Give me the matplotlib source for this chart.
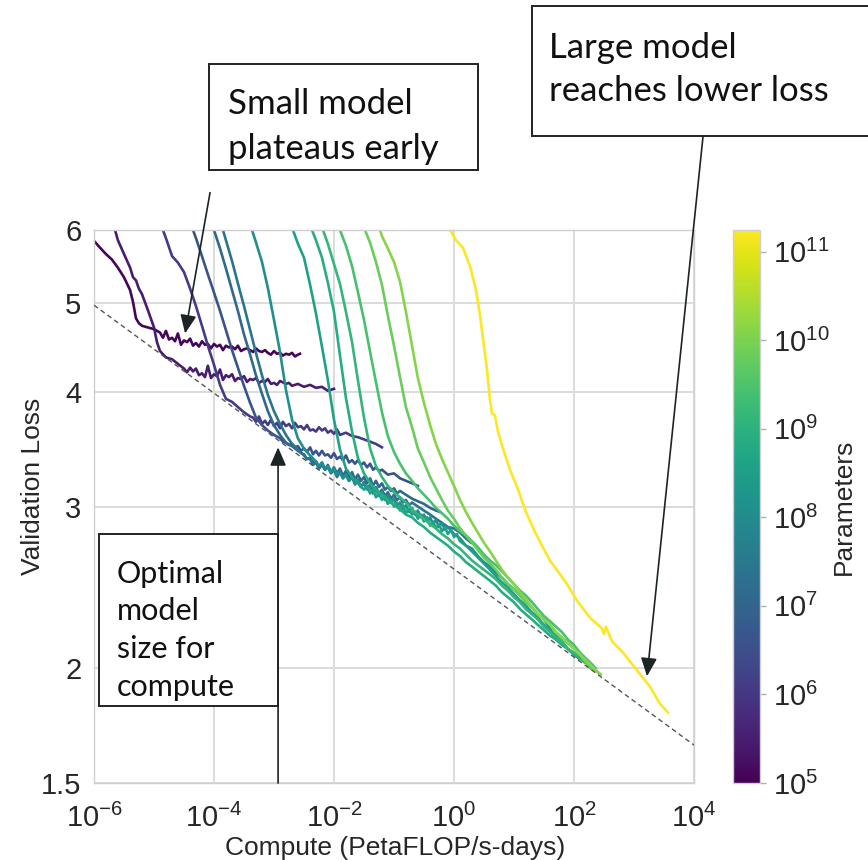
"""
Validation loss vs. compute for a family of language models,
coloured by parameter count, with the compute-efficient frontier.
"""

import matplotlib
matplotlib.use("Agg")
import matplotlib.pyplot as plt
from matplotlib.colors import LogNorm
from matplotlib.patches import Rectangle
from matplotlib.ticker import FixedLocator, FixedFormatter, NullLocator


OUT_PNG = "out.png"

# parameter count of each training run (colour scale)
params = [1.2e5, 3e5, 1.2e6, 4e6, 1.2e7, 2.5e7, 1.2e8, 3.5e8,
          7.6e8, 1.3e9, 2.7e9, 6.7e9, 1.3e10, 1.75e11]

# compute (PetaFLOP/s-days) and validation loss per run
compute_120k = [1.0e-6, 1.26e-6, 1.58e-6, 2.0e-6, 2.5e-6, 3.16e-6, 4.0e-6, 4.47e-6, 5.0e-6, 5.6e-6,
                6.3e-6, 7.9e-6, 1.0e-5, 1.26e-5, 1.41e-5, 1.58e-5, 1.78e-5, 2.0e-5, 2.24e-5, 2.5e-5,
                2.82e-5, 3.16e-5, 3.55e-5, 4.0e-5, 4.47e-5, 5.0e-5, 5.62e-5, 6.3e-5, 7.08e-5, 7.9e-5,
                8.91e-5, 1.0e-4, 1.12e-4, 1.26e-4, 1.41e-4, 1.58e-4, 1.78e-4, 2.0e-4, 2.24e-4, 2.5e-4,
                2.82e-4, 3.16e-4, 3.55e-4, 4.0e-4, 4.47e-4, 5.0e-4, 5.62e-4, 6.3e-4, 7.08e-4, 7.9e-4,
                8.91e-4, 1.0e-3, 1.12e-3, 1.26e-3, 1.41e-3, 1.58e-3, 1.78e-3, 2.0e-3, 2.24e-3, 2.5e-3,
                2.71e-3]
loss_120k = [5.84, 5.74, 5.65, 5.57, 5.46, 5.33, 5.16, 5.01, 4.81, 4.75,
             4.72, 4.70, 4.68, 4.64, 4.58, 4.66, 4.56, 4.58, 4.54, 4.63,
             4.50, 4.55, 4.53, 4.57, 4.49, 4.52, 4.48, 4.54, 4.50, 4.51,
             4.46, 4.51, 4.48, 4.50, 4.44, 4.49, 4.47, 4.48, 4.45, 4.49,
             4.43, 4.45, 4.46, 4.44, 4.42, 4.46, 4.43, 4.42, 4.44, 4.41,
             4.39, 4.43, 4.40, 4.41, 4.38, 4.40, 4.39, 4.41, 4.37, 4.39,
             4.40]

compute_300k = [2.24e-6, 2.5e-6, 3.16e-6, 4.0e-6, 4.47e-6, 5.0e-6, 5.6e-6, 6.3e-6, 7.9e-6, 1.0e-5,
                1.12e-5, 1.26e-5, 1.58e-5, 2.0e-5, 2.5e-5, 3.16e-5, 3.55e-5, 4.0e-5, 4.47e-5, 5.0e-5,
                5.62e-5, 6.3e-5, 7.08e-5, 7.9e-5, 8.91e-5, 1.0e-4, 1.12e-4, 1.26e-4, 1.41e-4, 1.58e-4,
                1.78e-4, 2.0e-4, 2.24e-4, 2.5e-4, 2.82e-4, 3.16e-4, 3.55e-4, 4.0e-4, 4.47e-4, 5.0e-4,
                5.62e-4, 6.3e-4, 7.08e-4, 7.9e-4, 8.91e-4, 1.0e-3, 1.12e-3, 1.26e-3, 1.58e-3, 1.78e-3,
                2.0e-3, 2.5e-3, 3.16e-3, 4.0e-3, 5.0e-3, 6.3e-3, 7.9e-3, 1.0e-2]
loss_300k = [6.00, 5.85, 5.65, 5.46, 5.33, 5.29, 5.18, 5.11, 4.91, 4.70,
             4.53, 4.43, 4.36, 4.34, 4.29, 4.24, 4.20, 4.25, 4.21, 4.24,
             4.17, 4.19, 4.15, 4.27, 4.14, 4.18, 4.16, 4.23, 4.12, 4.17,
             4.15, 4.18, 4.11, 4.14, 4.13, 4.16, 4.10, 4.13, 4.12, 4.14,
             4.09, 4.11, 4.10, 4.13, 4.08, 4.09, 4.07, 4.11, 4.08, 4.09,
             4.06, 4.08, 4.05, 4.07, 4.04, 4.05, 4.01, 4.03]

compute_1_2m = [1.41e-5, 1.58e-5, 2.0e-5, 2.5e-5, 3.16e-5, 4.0e-5, 5.0e-5, 6.3e-5, 7.9e-5, 1.0e-4,
                1.26e-4, 1.58e-4, 2.0e-4, 2.5e-4, 3.16e-4, 4.0e-4, 4.47e-4, 5.0e-4, 5.62e-4, 6.3e-4,
                7.08e-4, 7.9e-4, 8.91e-4, 1.0e-3, 1.12e-3, 1.26e-3, 1.41e-3, 1.58e-3, 1.78e-3, 2.0e-3,
                2.24e-3, 2.5e-3, 2.82e-3, 3.16e-3, 3.55e-3, 4.0e-3, 4.47e-3, 5.0e-3, 5.62e-3, 6.3e-3,
                7.08e-3, 7.9e-3, 8.91e-3, 1.0e-2, 1.12e-2, 1.26e-2, 1.58e-2, 2.0e-2, 2.5e-2, 3.16e-2,
                4.0e-2, 5.0e-2, 6.3e-2]
loss_1_2m = [6.00, 5.88, 5.62, 5.53, 5.40, 5.18, 4.96, 4.72, 4.49, 4.28,
             4.07, 3.93, 3.90, 3.85, 3.80, 3.76, 3.75, 3.71, 3.76, 3.69,
             3.72, 3.68, 3.73, 3.67, 3.70, 3.65, 3.71, 3.67, 3.69, 3.65,
             3.70, 3.66, 3.67, 3.64, 3.68, 3.63, 3.64, 3.62, 3.66, 3.63,
             3.65, 3.61, 3.63, 3.60, 3.64, 3.59, 3.61, 3.58, 3.57, 3.55,
             3.53, 3.51, 3.48]

compute_4m = [4.47e-5, 5.0e-5, 6.3e-5, 7.9e-5, 1.0e-4, 1.26e-4, 1.58e-4, 2.0e-4, 2.5e-4, 3.16e-4,
              4.0e-4, 5.0e-4, 6.3e-4, 7.9e-4, 1.0e-3, 1.26e-3, 1.41e-3, 1.58e-3, 1.78e-3, 2.0e-3,
              2.24e-3, 2.5e-3, 2.82e-3, 3.16e-3, 3.55e-3, 4.0e-3, 4.47e-3, 5.0e-3, 5.62e-3, 6.3e-3,
              7.08e-3, 7.9e-3, 8.91e-3, 1.0e-2, 1.12e-2, 1.26e-2, 1.41e-2, 1.58e-2, 1.78e-2, 2.0e-2,
              2.24e-2, 2.5e-2, 2.82e-2, 3.16e-2, 3.55e-2, 4.0e-2, 4.47e-2, 5.0e-2, 5.62e-2, 6.3e-2,
              7.9e-2, 0.1, 0.126, 0.158, 0.2, 0.25]
loss_4m = [6.00, 5.88, 5.62, 5.37, 5.13, 4.90, 4.67, 4.44, 4.25, 4.06,
           3.89, 3.75, 3.68, 3.63, 3.59, 3.56, 3.53, 3.52, 3.50, 3.51,
           3.48, 3.49, 3.45, 3.47, 3.44, 3.48, 3.42, 3.45, 3.41, 3.45,
           3.41, 3.42, 3.39, 3.43, 3.38, 3.40, 3.37, 3.41, 3.35, 3.37,
           3.34, 3.37, 3.33, 3.35, 3.31, 3.34, 3.29, 3.31, 3.28, 3.29,
           3.25, 3.26, 3.22, 3.20, 3.18, 3.16]

compute_12m = [1.0e-4, 1.26e-4, 1.58e-4, 2.0e-4, 2.5e-4, 3.16e-4, 4.0e-4, 5.0e-4, 6.3e-4, 7.9e-4,
               1.0e-3, 1.26e-3, 1.58e-3, 2.0e-3, 2.5e-3, 2.82e-3, 3.16e-3, 3.55e-3, 4.0e-3, 4.47e-3,
               5.0e-3, 5.62e-3, 6.3e-3, 7.08e-3, 7.9e-3, 8.91e-3, 1.0e-2, 1.12e-2, 1.26e-2, 1.41e-2,
               1.58e-2, 1.78e-2, 2.0e-2, 2.24e-2, 2.5e-2, 2.82e-2, 3.16e-2, 3.55e-2, 4.0e-2, 4.47e-2,
               5.0e-2, 5.62e-2, 6.3e-2, 7.08e-2, 7.9e-2, 8.91e-2, 0.1, 0.112, 0.126, 0.158,
               0.2, 0.25, 0.316, 0.4, 0.5, 0.58]
loss_12m = [6.00, 5.73, 5.45, 5.16, 4.90, 4.62, 4.39, 4.17, 3.98, 3.81,
            3.68, 3.59, 3.52, 3.49, 3.45, 3.43, 3.42, 3.38, 3.39, 3.35,
            3.36, 3.31, 3.35, 3.29, 3.33, 3.27, 3.31, 3.26, 3.30, 3.24,
            3.28, 3.23, 3.27, 3.21, 3.25, 3.20, 3.23, 3.18, 3.22, 3.16,
            3.20, 3.15, 3.18, 3.13, 3.15, 3.12, 3.14, 3.10, 3.12, 3.09,
            3.06, 3.04, 3.02, 2.99, 2.97, 2.96]

compute_25m = [1.41e-4, 1.58e-4, 2.0e-4, 2.5e-4, 3.16e-4, 4.0e-4, 5.0e-4, 6.3e-4, 7.9e-4, 1.0e-3,
               1.26e-3, 1.58e-3, 2.0e-3, 2.5e-3, 3.16e-3, 3.55e-3, 4.0e-3, 4.47e-3, 5.0e-3, 5.62e-3,
               6.3e-3, 7.08e-3, 7.9e-3, 8.91e-3, 1.0e-2, 1.12e-2, 1.26e-2, 1.41e-2, 1.58e-2, 1.78e-2,
               2.0e-2, 2.24e-2, 2.5e-2, 2.82e-2, 3.16e-2, 3.55e-2, 4.0e-2, 4.47e-2, 5.0e-2, 5.62e-2,
               6.3e-2, 7.08e-2, 7.9e-2, 8.91e-2, 0.1, 0.112, 0.126, 0.141, 0.158, 0.178,
               0.2, 0.25, 0.316, 0.4, 0.5, 0.63, 0.79, 1.0, 1.26, 1.58,
               1.92]
loss_25m = [6.00, 5.85, 5.55, 5.25, 4.96, 4.67, 4.41, 4.17, 3.97, 3.81,
            3.69, 3.59, 3.51, 3.46, 3.41, 3.38, 3.38, 3.33, 3.35, 3.30,
            3.33, 3.29, 3.31, 3.26, 3.29, 3.23, 3.27, 3.22, 3.25, 3.20,
            3.23, 3.18, 3.21, 3.15, 3.19, 3.14, 3.17, 3.12, 3.15, 3.10,
            3.13, 3.08, 3.11, 3.06, 3.09, 3.05, 3.07, 3.03, 3.05, 3.01,
            3.03, 3.00, 2.97, 2.94, 2.91, 2.88, 2.85, 2.84, 2.81, 2.77,
            2.74]

compute_120m = [4.3e-4, 5.0e-4, 6.3e-4, 7.9e-4, 1.0e-3, 1.26e-3, 1.58e-3, 2.0e-3, 2.5e-3, 3.16e-3,
                4.0e-3, 5.0e-3, 5.62e-3, 6.3e-3, 7.08e-3, 7.9e-3, 8.91e-3, 1.0e-2, 1.12e-2, 1.26e-2,
                1.41e-2, 1.58e-2, 1.78e-2, 2.0e-2, 2.24e-2, 2.5e-2, 2.82e-2, 3.16e-2, 3.55e-2, 4.0e-2,
                4.47e-2, 5.0e-2, 5.62e-2, 6.3e-2, 7.08e-2, 7.9e-2, 8.91e-2, 0.1, 0.112, 0.126,
                0.141, 0.158, 0.178, 0.2, 0.224, 0.25, 0.282, 0.316, 0.355, 0.4,
                0.447, 0.5, 0.562, 0.63, 0.708, 0.79, 1.0, 1.26, 1.58, 2.0,
                2.5, 3.16, 4.0, 5.0, 6.3, 7.9, 10, 12.6, 15.8, 20,
                25, 31.6, 40, 50]
loss_120m = [6.00, 5.82, 5.54, 5.19, 4.79, 4.42, 4.02, 3.73, 3.56, 3.47,
             3.41, 3.36, 3.32, 3.35, 3.30, 3.32, 3.27, 3.30, 3.25, 3.27,
             3.22, 3.25, 3.20, 3.23, 3.17, 3.20, 3.15, 3.18, 3.13, 3.16,
             3.10, 3.13, 3.08, 3.11, 3.05, 3.08, 3.03, 3.06, 3.00, 3.03,
             2.98, 3.01, 2.96, 2.99, 2.94, 2.97, 2.92, 2.94, 2.89, 2.92,
             2.87, 2.90, 2.85, 2.88, 2.83, 2.85, 2.80, 2.77, 2.72, 2.70,
             2.65, 2.61, 2.58, 2.54, 2.51, 2.47, 2.44, 2.40, 2.36, 2.33,
             2.29, 2.26, 2.21, 2.15]

compute_350m = [2.07e-3, 2.5e-3, 3.16e-3, 4.0e-3, 5.0e-3, 6.3e-3, 7.9e-3, 1.0e-2, 1.26e-2, 1.58e-2,
                2.0e-2, 2.5e-2, 3.16e-2, 3.55e-2, 4.0e-2, 4.47e-2, 5.0e-2, 5.62e-2, 6.3e-2, 7.08e-2,
                7.9e-2, 8.91e-2, 0.1, 0.112, 0.126, 0.141, 0.158, 0.178, 0.2, 0.224,
                0.25, 0.282, 0.316, 0.355, 0.4, 0.447, 0.5, 0.562, 0.63, 0.708,
                0.79, 0.89, 1.0, 1.12, 1.26, 1.58, 2.0, 2.5, 3.16, 4.0,
                5.0, 6.3, 7.9, 10, 12.6, 15.8, 20, 25, 31.6, 40,
                50, 63, 79, 100, 120]
loss_350m = [6.00, 5.80, 5.60, 5.23, 4.87, 4.48, 4.12, 3.73, 3.46, 3.30,
             3.23, 3.18, 3.13, 3.16, 3.10, 3.13, 3.07, 3.10, 3.05, 3.08,
             3.02, 3.05, 3.00, 3.03, 2.97, 3.01, 2.95, 2.98, 2.94, 2.96,
             2.91, 2.94, 2.89, 2.92, 2.86, 2.89, 2.84, 2.87, 2.82, 2.85,
             2.80, 2.83, 2.78, 2.80, 2.75, 2.72, 2.68, 2.64, 2.60, 2.56,
             2.52, 2.48, 2.45, 2.41, 2.37, 2.34, 2.30, 2.27, 2.23, 2.20,
             2.17, 2.14, 2.10, 2.07, 2.05]

compute_760m = [4.3e-3, 5.0e-3, 6.3e-3, 7.9e-3, 1.0e-2, 1.26e-2, 1.58e-2, 2.0e-2, 2.5e-2, 3.16e-2,
                4.0e-2, 5.0e-2, 6.3e-2, 7.9e-2, 0.1, 0.126, 0.158, 0.2, 0.25, 0.316,
                0.4, 0.5, 0.63, 0.79, 1.0, 1.26, 1.58, 2.0, 2.5, 3.16,
                4.0, 5.0, 6.3, 7.9, 10, 12.6, 15.8, 20, 25, 31.6,
                40, 50, 63, 79, 100, 126, 150]
loss_760m = [6.00, 5.85, 5.60, 5.26, 4.89, 4.38, 3.94, 3.62, 3.39, 3.26,
             3.18, 3.13, 3.09, 3.05, 3.01, 2.98, 2.94, 2.92, 2.88, 2.85,
             2.81, 2.78, 2.75, 2.72, 2.68, 2.65, 2.61, 2.58, 2.55, 2.52,
             2.49, 2.46, 2.42, 2.39, 2.36, 2.32, 2.29, 2.26, 2.23, 2.20,
             2.17, 2.15, 2.12, 2.10, 2.07, 2.05, 2.03]

compute_1_3b = [6.56e-3, 7.9e-3, 1.0e-2, 1.26e-2, 1.58e-2, 2.0e-2, 2.5e-2, 3.16e-2, 4.0e-2, 5.0e-2,
                6.3e-2, 7.9e-2, 0.1, 0.126, 0.158, 0.2, 0.25, 0.316, 0.4, 0.5,
                0.63, 0.79, 1.0, 1.26, 1.58, 2.0, 2.5, 3.16, 4.0, 5.0,
                6.3, 7.9, 10, 12.6, 15.8, 20, 25, 31.6, 40, 50,
                63, 79, 100, 126, 158, 190]
loss_1_3b = [6.00, 5.80, 5.51, 5.24, 4.89, 4.53, 4.12, 3.75, 3.47, 3.32,
             3.23, 3.16, 3.11, 3.07, 3.03, 2.98, 2.94, 2.91, 2.87, 2.84,
             2.80, 2.77, 2.73, 2.70, 2.66, 2.62, 2.59, 2.56, 2.53, 2.50,
             2.46, 2.43, 2.39, 2.36, 2.32, 2.29, 2.26, 2.22, 2.19, 2.16,
             2.14, 2.10, 2.08, 2.06, 2.03, 2.00]

compute_2_7b = [1.26e-2, 1.58e-2, 2.0e-2, 2.5e-2, 3.16e-2, 4.0e-2, 5.0e-2, 6.3e-2, 7.9e-2, 0.1,
                0.126, 0.158, 0.2, 0.25, 0.316, 0.4, 0.5, 0.63, 0.79, 1.0,
                1.26, 1.58, 2.0, 2.5, 3.16, 4.0, 5.0, 6.3, 7.9, 10,
                12.6, 15.8, 20, 25, 31.6, 40, 50, 63, 79, 100,
                126, 158, 200, 230]
loss_2_7b = [6.00, 5.77, 5.48, 5.14, 4.79, 4.42, 4.10, 3.80, 3.58, 3.44,
             3.34, 3.26, 3.20, 3.14, 3.09, 3.04, 2.99, 2.95, 2.91, 2.86,
             2.82, 2.79, 2.75, 2.71, 2.66, 2.62, 2.59, 2.55, 2.51, 2.47,
             2.43, 2.40, 2.36, 2.32, 2.28, 2.25, 2.22, 2.19, 2.15, 2.12,
             2.08, 2.05, 2.02, 2.00]

compute_6_7b = [3.29e-2, 4.0e-2, 5.0e-2, 6.3e-2, 7.9e-2, 0.1, 0.126, 0.158, 0.2, 0.25,
                0.316, 0.4, 0.5, 0.63, 0.79, 1.0, 1.26, 1.58, 2.0, 2.5,
                3.16, 4.0, 5.0, 6.3, 7.9, 10, 12.6, 15.8, 20, 25,
                31.6, 40, 50, 63, 79, 100, 126, 158, 200, 250]
loss_6_7b = [6.00, 5.81, 5.54, 5.23, 4.84, 4.49, 4.15, 3.85, 3.66, 3.47,
             3.35, 3.23, 3.14, 3.05, 2.97, 2.91, 2.84, 2.79, 2.74, 2.69,
             2.64, 2.60, 2.56, 2.51, 2.47, 2.44, 2.40, 2.36, 2.33, 2.29,
             2.26, 2.23, 2.19, 2.16, 2.13, 2.10, 2.07, 2.03, 2.00, 1.98]

compute_13b = [5.85e-2, 6.3e-2, 7.9e-2, 0.1, 0.126, 0.158, 0.2, 0.25, 0.316, 0.4,
               0.5, 0.63, 0.79, 1.0, 1.26, 1.58, 2.0, 2.5, 3.16, 4.0,
               5.0, 6.3, 7.9, 10, 12.6, 15.8, 20, 25, 31.6, 40,
               50, 63, 79, 100, 126, 158, 200, 250, 280]
loss_13b = [6.00, 5.91, 5.73, 5.54, 5.27, 4.89, 4.49, 4.14, 3.89, 3.68,
            3.51, 3.38, 3.27, 3.16, 3.05, 2.96, 2.88, 2.81, 2.74, 2.68,
            2.62, 2.56, 2.51, 2.47, 2.42, 2.38, 2.33, 2.29, 2.26, 2.23,
            2.19, 2.16, 2.13, 2.10, 2.07, 2.04, 2.01, 1.98, 1.97]

compute_175b = [0.86, 1.08, 1.41, 1.85, 2.33, 2.71, 3.16, 3.55, 3.98, 4.30,
                4.82, 5.41, 6.56, 8.57, 11.7, 15.8, 21.5, 29.3, 39.8, 54.1,
                76.4, 112, 185, 293, 316, 341, 430, 656, 1122, 1849,
                2710, 3690]
loss_175b = [6.00, 5.85, 5.74, 5.48, 5.16, 4.85, 4.49, 4.23, 3.92, 3.79,
             3.77, 3.62, 3.47, 3.29, 3.13, 2.96, 2.83, 2.72, 2.62, 2.55,
             2.47, 2.37, 2.27, 2.21, 2.18, 2.22, 2.14, 2.08, 1.99, 1.91,
             1.83, 1.79]

# compute-efficient frontier (end points of the dashed power law)
frontier_compute = [1e-6, 1e4]
frontier_loss = [4.97, 1.65]

y_ticks = [1.5, 2, 3, 4, 5, 6]
y_tick_labels = ["1.5", "2", "3", "4", "5", "6"]
x_ticks = [1e-6, 1e-4, 1e-2, 1e0, 1e2, 1e4]
cbar_ticks = [1e5, 1e6, 1e7, 1e8, 1e9, 1e10, 1e11]

GRID = "#dcdcdc"
INK = "#262626"
ARROW = "#1d2426"
NOTE_FONT = ["Lato", "DejaVu Sans"]


def main():
    plt.rcParams.update({
        "font.family": ["Liberation Sans", "DejaVu Sans"],
        "mathtext.fontset": "custom",
        "mathtext.rm": "Liberation Sans",
        "mathtext.it": "Liberation Sans:italic",
        "mathtext.bf": "Liberation Sans:bold",
        "text.color": INK,
        "axes.labelcolor": INK,
        "xtick.color": INK,
        "ytick.color": INK,
    })

    runs = [
        (params[0], compute_120k, loss_120k),
        (params[1], compute_300k, loss_300k),
        (params[2], compute_1_2m, loss_1_2m),
        (params[3], compute_4m, loss_4m),
        (params[4], compute_12m, loss_12m),
        (params[5], compute_25m, loss_25m),
        (params[6], compute_120m, loss_120m),
        (params[7], compute_350m, loss_350m),
        (params[8], compute_760m, loss_760m),
        (params[9], compute_1_3b, loss_1_3b),
        (params[10], compute_2_7b, loss_2_7b),
        (params[11], compute_6_7b, loss_6_7b),
        (params[12], compute_13b, loss_13b),
        (params[13], compute_175b, loss_175b),
    ]

    fig = plt.figure(figsize=(8.68, 8.60), dpi=100)
    ax = fig.add_axes([0.1083, 0.0895, 0.6912, 0.6430])
    cax = fig.add_axes([0.8445, 0.0895, 0.0311, 0.6430])

    norm = LogNorm(vmin=1e5, vmax=1.75e11)
    cmap = plt.get_cmap("viridis")

    for n, comp, loss in runs:
        ax.plot(comp, loss, color=cmap(norm(n)), lw=1.9,
                solid_joinstyle="round", zorder=2)

    ax.plot(frontier_compute, frontier_loss, color="#555555", lw=1.0,
            ls=(0, (3.5, 2.5)), zorder=3)

    ax.set_xscale("log")
    ax.set_yscale("log")
    ax.set_xlim(1e-6, 1e4)
    ax.set_ylim(1.5, 6)

    ax.xaxis.set_major_locator(FixedLocator(x_ticks))
    ax.xaxis.set_minor_locator(NullLocator())
    ax.yaxis.set_major_locator(FixedLocator(y_ticks))
    ax.yaxis.set_major_formatter(FixedFormatter(y_tick_labels))
    ax.yaxis.set_minor_locator(NullLocator())

    ax.grid(True, color=GRID, lw=1.4, zorder=0)
    ax.set_axisbelow(True)
    for sp in ax.spines.values():
        sp.set_color("#cfcfcf")
        sp.set_linewidth(1.0)
    ax.tick_params(axis="both", length=0, labelsize=21)
    ax.tick_params(axis="x", pad=15)
    ax.tick_params(axis="y", pad=9)

    ax.set_xlabel("Compute (PetaFLOP/s-days)", fontsize=19)
    ax.set_ylabel("Validation Loss", fontsize=19)
    ax.xaxis.set_label_coords(0.502, -0.096)
    ax.yaxis.set_label_coords(-0.082, 0.537)

    sm = plt.cm.ScalarMappable(norm=norm, cmap=cmap)
    cbar = fig.colorbar(sm, cax=cax)
    cbar.set_ticks(cbar_ticks)
    cax.yaxis.set_minor_locator(NullLocator())
    cbar.outline.set_edgecolor("#cfcfcf")
    cbar.outline.set_linewidth(1.0)
    cax.tick_params(length=4, width=1, color="#b0b0b0", labelsize=21, pad=5)
    cbar.set_label("Parameters", fontsize=19, labelpad=2)

    # call-out boxes
    boxes = [
        ((0.2408, 0.8023), 0.3099, 0.1233, "Small model\nplateaus early", (0.2627, 0.8529), 25, 1.5),
        ((0.6129, 0.8419), 0.4000, 0.1512, "Large model\nreaches lower loss", (0.6325, 0.9192), 25, 1.45),
        ((0.1141, 0.1791), 0.2062, 0.2000, "Optimal\nmodel\nsize for\ncompute", (0.1348, 0.2674), 22, 1.42),
    ]
    for (x0, y0), w, h, txt, (tx, ty), fs, lsp in boxes:
        fig.add_artist(Rectangle((x0, y0), w, h, transform=fig.transFigure,
                                 facecolor="white", edgecolor="#222222",
                                 lw=1.4, zorder=5))
        fig.text(tx, ty, txt, fontsize=fs, family=NOTE_FONT, color="#111111",
                 ha="left", va="center", linespacing=lsp, zorder=6)

    arrow = dict(arrowstyle="-|>,head_length=0.8,head_width=0.35",
                 color=ARROW, lw=1.2, mutation_scale=14,
                 shrinkA=0, shrinkB=0)
    ax.annotate("", xy=(3.3e-5, 4.63), xycoords="data",
                xytext=(0.242, 0.776), textcoords="figure fraction",
                arrowprops=arrow, annotation_clip=False, zorder=7)
    ax.annotate("", xy=(1650, 1.96), xycoords="data",
                xytext=(0.810, 0.842), textcoords="figure fraction",
                arrowprops=arrow, annotation_clip=False, zorder=7)
    ax.annotate("", xy=(1.17e-3, 3.48), xycoords="data",
                xytext=(1.17e-3, 1.5), textcoords="data",
                arrowprops=arrow, annotation_clip=False, zorder=7)

    fig.savefig(OUT_PNG, dpi=100)
    plt.close(fig)


if __name__ == "__main__":
    main()
